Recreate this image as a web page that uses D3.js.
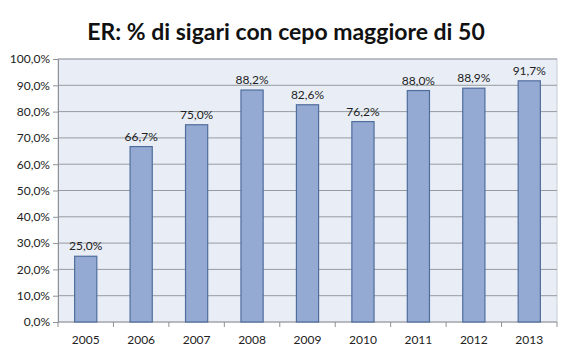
<!DOCTYPE html>
<html>
<head>
<meta charset="utf-8">
<script src="https://cdn.jsdelivr.net/npm/d3@7"></script>
<style>
  body { margin: 0; background: #fff; }
  text { font-family: Lato, "Open Sans", sans-serif; }
</style>
</head>
<body>
<svg id="chart" width="574" height="354"></svg>
<script>
// chart data
const years = ["2005", "2006", "2007", "2008", "2009", "2010", "2011", "2012", "2013"];
const shares = [25.0, 66.7, 75.0, 88.2, 82.6, 76.2, 88.0, 88.9, 91.7];
const yTicks = [0, 10, 20, 30, 40, 50, 60, 70, 80, 90, 100];

const fmt = v => d3.format(".1f")(v).replace(".", ",") + "%";

const svg = d3.select("#chart");
const margin = { top: 59, right: 17, bottom: 32, left: 58 };
const width = 574 - margin.left - margin.right;
const height = 354 - margin.top - margin.bottom;

// title
svg.append("text")
   .attr("x", 286)
   .attr("y", 40)
   .attr("text-anchor", "middle")
   .attr("font-size", 23)
   .attr("font-weight", "bold")
   .attr("fill", "#111")
   .text("ER: % di sigari con cepo maggiore di 50");

const g = svg.append("g")
             .attr("transform", `translate(${margin.left},${margin.top})`);

const x = d3.scaleBand().domain(years).range([0, width]).paddingInner(0.6).paddingOuter(0.3);
const xOuter = d3.scaleBand().domain(years).range([0, width]);
const y = d3.scaleLinear().domain([0, 100]).range([height, 0]);

// plot background
g.append("rect")
 .attr("width", width)
 .attr("height", height)
 .attr("fill", "#e9eef6")
 .attr("stroke", "#c8ccd4");

// gridlines
g.selectAll(".grid")
 .data(yTicks.filter(t => t > 0))
 .join("line")
 .attr("x1", 0).attr("x2", width)
 .attr("y1", d => y(d)).attr("y2", d => y(d))
 .attr("stroke", "#979ba0")
 .attr("stroke-width", 1);

// y axis
const yAxis = d3.axisLeft(y).tickValues(yTicks).tickSize(5).tickFormat(fmt);
g.append("g").call(yAxis)
 .call(a => a.select(".domain").attr("stroke", "#8e9296"))
 .call(a => a.selectAll(".tick line").attr("stroke", "#8e9296"))
 .call(a => a.selectAll(".tick text").attr("font-size", 12).attr("fill", "#222").attr("x", -8)
   .style("font-family", "Lato, sans-serif"));

// x axis baseline and tick marks at category borders
g.append("line")
 .attr("x1", 0).attr("x2", width)
 .attr("y1", height).attr("y2", height)
 .attr("stroke", "#8e9296");
g.selectAll(".xtick")
 .data(years.concat(["end"]))
 .join("line")
 .attr("x1", (d, i) => i < years.length ? xOuter(d) : width)
 .attr("x2", (d, i) => i < years.length ? xOuter(d) : width)
 .attr("y1", height).attr("y2", height + 5)
 .attr("stroke", "#8e9296");

g.selectAll(".xlabel")
 .data(years)
 .join("text")
 .attr("x", d => xOuter(d) + xOuter.bandwidth() / 2)
 .attr("y", height + 22)
 .attr("text-anchor", "middle")
 .attr("font-size", 12)
 .attr("fill", "#222")
 .text(d => d);

// bars
g.selectAll(".bar")
 .data(shares)
 .join("rect")
 .attr("x", (d, i) => x(years[i]))
 .attr("y", d => y(d))
 .attr("width", x.bandwidth())
 .attr("height", d => height - y(d))
 .attr("fill", "#95aad3")
 .attr("stroke", "#4f6d9c")
 .attr("stroke-width", 1.2);

// value labels
g.selectAll(".val")
 .data(shares)
 .join("text")
 .attr("x", (d, i) => x(years[i]) + x.bandwidth() / 2)
 .attr("y", d => y(d) - 6)
 .attr("text-anchor", "middle")
 .attr("font-size", 12)
 .attr("fill", "#222")
 .text(fmt);
</script>
</body>
</html>
